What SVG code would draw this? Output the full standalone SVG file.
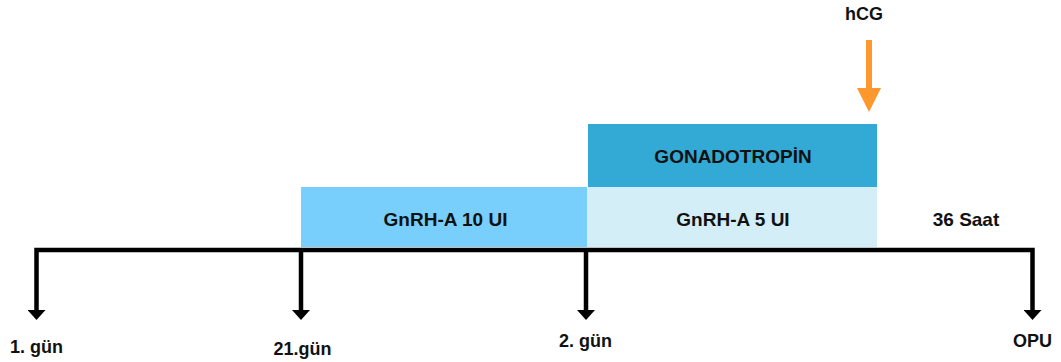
<svg xmlns="http://www.w3.org/2000/svg" width="1061" height="362" viewBox="0 0 1061 362">
  <style>
    text { font-family: "Liberation Sans", Arial, sans-serif; font-weight: bold; fill: #111; text-anchor: middle; }
    .lbl { font-size: 18px; }
    .box-lbl { font-size: 19px; }
    .axis { fill: none; stroke: #000; stroke-width: 4.5; stroke-linejoin: miter; }
    .trigger { fill: none; stroke: #FD982E; stroke-width: 6; }
  </style>
  <defs>
    <marker id="head-black" markerUnits="userSpaceOnUse" viewBox="0 -9 10 18" markerWidth="10" markerHeight="18" refX="0" refY="0" orient="auto-start-reverse">
      <path d="M0,-9 L10,0 L0,9 Z" fill="#000"/>
    </marker>
    <marker id="head-orange" markerUnits="userSpaceOnUse" viewBox="0 -12 24 24" markerWidth="24" markerHeight="24" refX="0" refY="0" orient="auto">
      <path d="M0,-12 L24,0 L0,12 Z" fill="#FD982E"/>
    </marker>
  </defs>

  <!-- treatment phases -->
  <g id="gnrh-10">
    <rect x="301" y="187" width="286" height="60" fill="#79CFFC"/>
    <text class="box-lbl" x="445.5" y="226">GnRH-A 10 UI</text>
  </g>
  <g id="gnrh-5">
    <rect x="587" y="187" width="290" height="60" fill="#D3EEF7"/>
    <text class="box-lbl" x="733" y="226">GnRH-A 5 UI</text>
  </g>
  <g id="gonadotropin">
    <rect x="588" y="124" width="289" height="63" fill="#33A9D5"/>
    <text class="box-lbl" x="733" y="163">GONADOTROPİN</text>
  </g>
  <g id="interval">
    <text class="box-lbl" x="966" y="226">36 Saat</text>
  </g>
  <g id="hcg">
    <text class="lbl" x="864" y="20">hCG</text>
  </g>

  <!-- timeline milestones -->
  <g id="day-1"><text class="lbl" x="36.5" y="353">1. gün</text></g>
  <g id="day-21"><text class="lbl" x="302.5" y="355">21.gün</text></g>
  <g id="day-2"><text class="lbl" x="585.5" y="347">2. gün</text></g>
  <g id="opu"><text class="lbl" x="1032.5" y="347">OPU</text></g>

  <!-- connectors -->
  <g id="connectors">
    <path class="axis" d="M36.5,310 V250 H1032.5 V310" marker-start="url(#head-black)" marker-end="url(#head-black)"/>
    <path class="axis" d="M301,250 V310" marker-end="url(#head-black)"/>
    <path class="axis" d="M586,250 V310" marker-end="url(#head-black)"/>
    <path class="trigger" d="M869,40 V88" marker-end="url(#head-orange)"/>
  </g>
</svg>
